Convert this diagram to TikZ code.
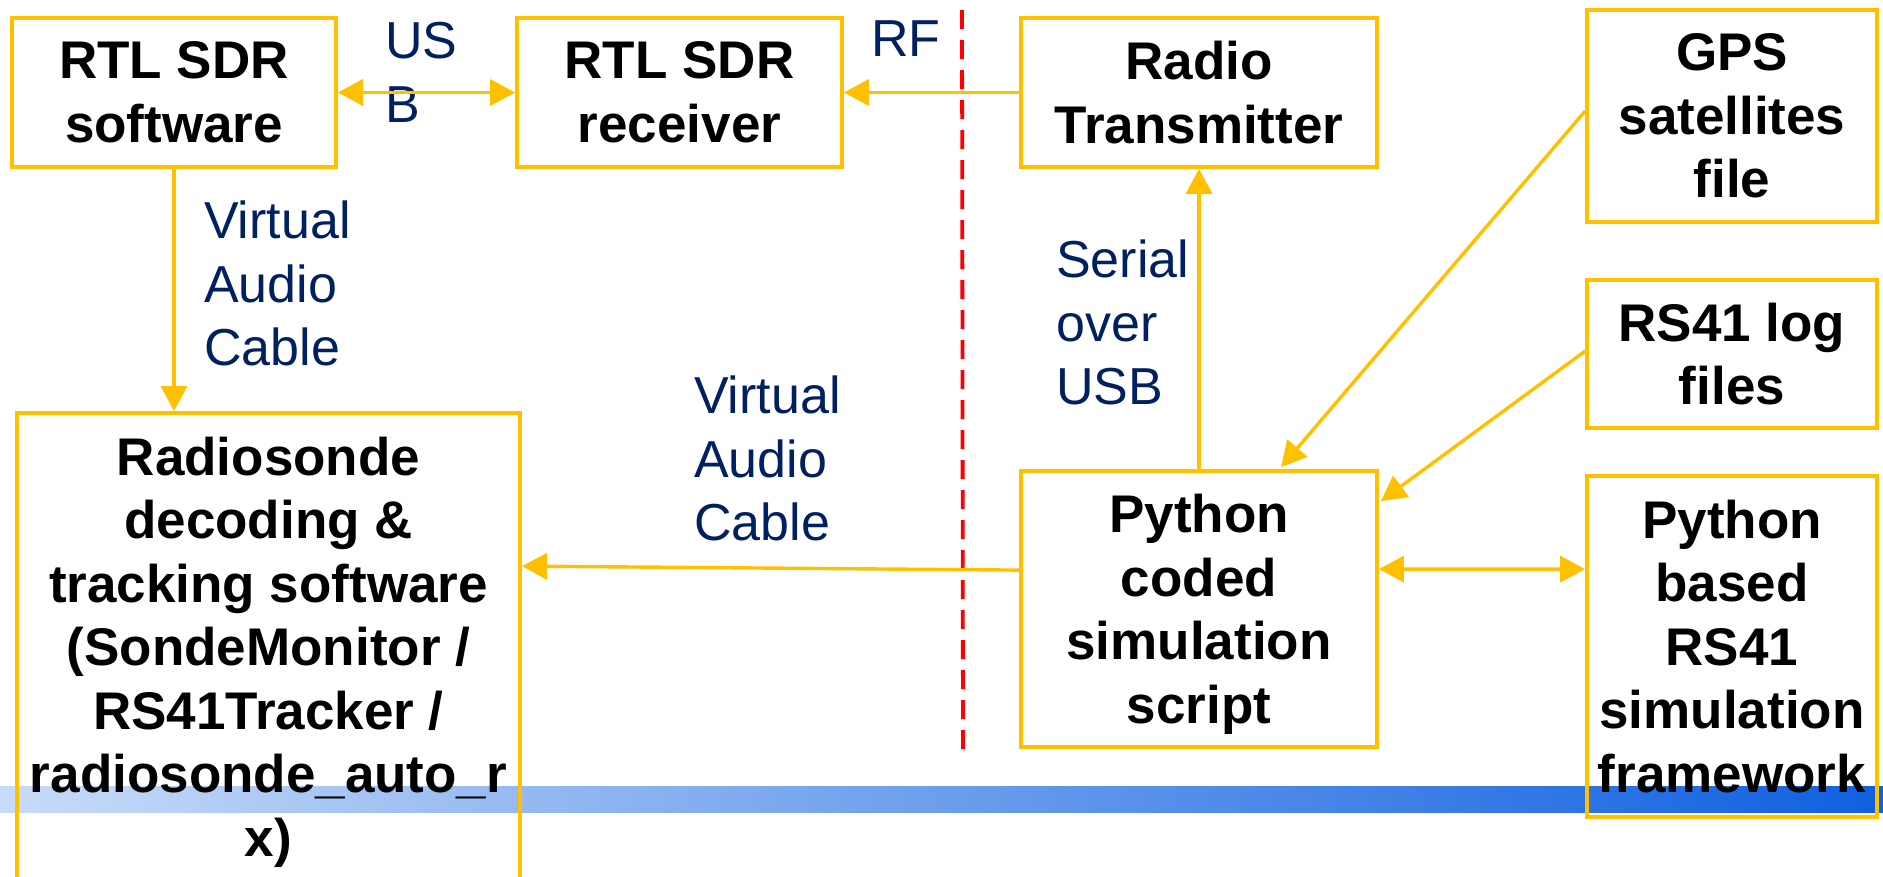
\documentclass[tikz,border=0pt]{standalone}
\usepackage{fontspec}
\setmainfont{Liberation Sans}
\usetikzlibrary{arrows.meta,calc}
\definecolor{gold}{RGB}{255,192,0}
\definecolor{navy}{RGB}{0,32,96}
\definecolor{barL}{RGB}{200,220,248}
\definecolor{barR}{RGB}{16,96,224}
\begin{document}
\begin{tikzpicture}[x=1bp,y=-1bp,
  box/.style={draw=gold,line width=3.8bp,inner sep=0pt,align=center,
    font=\fontsize{53bp}{63.5bp}\selectfont\bfseries},
  lab/.style={text=navy,inner sep=0pt,align=left,anchor=north west,
    font=\fontsize{52bp}{63.5bp}\selectfont},
  conn/.style={draw=gold,line width=3.4bp,-{Triangle[length=25bp,width=26bp]}},
  both/.style={draw=gold,line width=3.4bp,{Triangle[length=25bp,width=26bp]}-{Triangle[length=25bp,width=26bp]}}]
\useasboundingbox (0,0) rectangle (1883,877);
\clip (0,0) rectangle (1883,877);
% gradient bar
\shade[left color=barL,right color=barR] (0,786) rectangle (1883,812);
% dashed divider
\coordinate (dtop) at (962,10);
\coordinate (dbot) at (963,760);
\draw[red,line width=3.8bp,dash pattern=on 19bp off 11bp] (dtop) -- (dbot);
% boxes
\node[box,minimum width=324bp,minimum height=149bp] (sw) at (174,92.5) {RTL SDR\\software};
\node[box,minimum width=325bp,minimum height=149bp] (rx) at (679.5,92.5) {RTL SDR\\receiver};
\node[box,minimum width=356bp,minimum height=149bp] (tx) at (1199,92.5) {Radio\\Transmitter};
\node[box,minimum width=290bp,minimum height=212bp] (gps) at (1732,116) {GPS\\satellites\\file};
\node[box,minimum width=290bp,minimum height=148bp] (log) at (1732,354) {RS41 log\\files};
\node[box,minimum width=503bp,minimum height=478bp] (rs) at (268.5,652) {Radiosonde\\decoding \&\\tracking software\\(SondeMonitor /\\RS41Tracker /\\radiosonde\_auto\_r\\x)};
\node[box,minimum width=356bp,minimum height=276bp,text depth=0pt] (py) at (1199,609) {Python\\coded\\simulation\\script};
\node[box,minimum width=290bp,minimum height=341bp] (fw) at (1732,646.5) {Python\\based\\RS41\\simulation\\framework};
% labels
\node[lab] (lusb) at (385,22) {US\\B};
\node[lab] (lrf) at (871,21) {RF};
\node[lab] (lvac1) at (204,201) {Virtual\\Audio\\Cable};
\node[lab] (lvac2) at (694,376) {Virtual\\Audio\\Cable};
\node[lab] (lser) at (1056,240) {Serial\\over\\USB};
% connectors
\draw[both] (sw.east) -- (rx.west);
\draw[conn] (tx.west) -- (rx.east);
\draw[conn] (sw.south) -- (sw.south |- rs.north);
\draw[conn] ($(py.north west)+(0,101)$) -- ($(rs.north east)+(0,155)$);
\draw[conn] (py.north) -- (tx.south);
\draw[conn] ($(gps.north west)+(0,103)$) -- ($(py.north west)+(262,-2)$);
\draw[conn] ($(log.north west)+(0,73)$) -- ($(py.north east)+(2,32)$);
\draw[both] ($(py.north east)+(0,100)$) -- ($(fw.north west)+(0,95)$);
\end{tikzpicture}
\end{document}
